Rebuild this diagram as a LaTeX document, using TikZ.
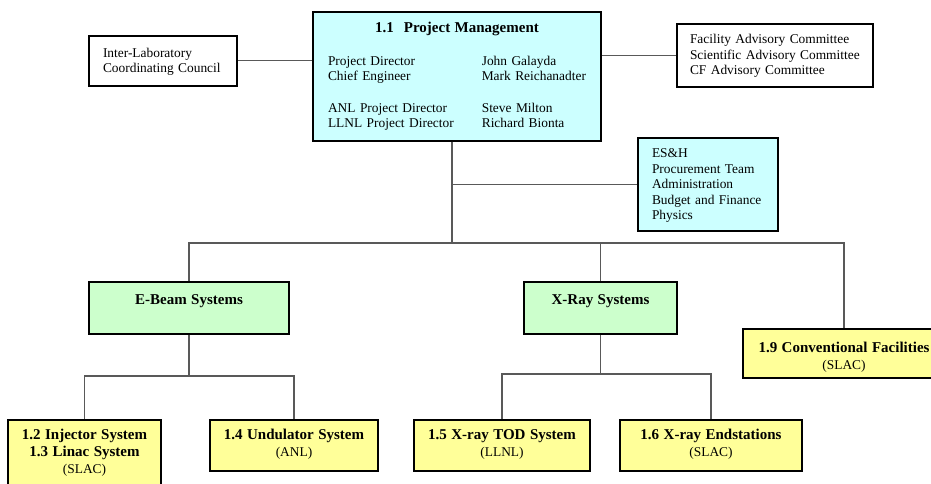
\documentclass[tikz,border=0pt]{standalone}
\usepackage{fontspec}
\setmainfont{Liberation Serif}
\definecolor{pmcyan}{HTML}{CCFFFF}
\definecolor{sysgreen}{HTML}{CCFFCC}
\definecolor{wbsyellow}{HTML}{FFFF99}
\newcommand\wbshead[1]{{\fontsize{15}{17}\selectfont\bfseries #1}}
\begin{document}
\begin{tikzpicture}[x=1pt, y=-1pt,
  box/.style={draw=black, line width=1.6pt, inner ysep=0pt, anchor=north},
  wbox/.style={box, fill=white, align=left, inner xsep=14pt,
    font=\fontsize{13.4}{15.5}\selectfont},
  cbox/.style={wbox, fill=pmcyan},
  gbox/.style={box, fill=sysgreen, align=center, inner xsep=0pt,
    font=\fontsize{13.4}{17}\selectfont},
  ybox/.style={gbox, fill=wbsyellow},
  link/.style={draw=black!65, line width=1.3pt}]
\useasboundingbox (0,0) rectangle (931,483);
% top level
\node[cbox, align=center, inner xsep=0pt, text width=288pt,
      text height=21pt, text depth=108pt] (pm) at (457,11) {%
  \begin{tabular}[t]{@{}l@{\hspace{28pt}}l@{}}
  \multicolumn{2}{c}{\wbshead{1.1\hspace{10pt}Project Management}}\\[17pt]
  Project Director & John Galayda\\
  Chief Engineer & Mark Reichanadter\\[16pt]
  ANL Project Director & Steve Milton\\
  LLNL Project Director & Richard Bionta
  \end{tabular}};
\node[wbox, text width=120pt, text height=21.5pt, text depth=28.5pt]
  (ilcc) at (163,35) {Inter-Laboratory\\Coordinating Council};
\node[wbox, inner xsep=13pt, text width=170pt, text height=20pt, text depth=43pt]
  (adv) at (775,23) {Facility Advisory Committee\\Scientific Advisory Committee\\CF Advisory Committee};
\node[cbox, text width=112pt, text height=20pt, text depth=73pt]
  (staff) at (708,137) {ES\&H\\Procurement Team\\Administration\\Budget and Finance\\Physics};
% systems
\node[gbox, text width=200pt, text height=23pt, text depth=29pt]
  (ebeam) at (189,281) {\wbshead{E-Beam Systems}};
\node[gbox, text width=153pt, text height=23pt, text depth=29pt]
  (xray) at (600.5,281) {\wbshead{X-Ray Systems}};
\node[ybox, text width=202pt, text height=24pt, text depth=25pt]
  (conv) at (844,328) {\wbshead{1.9 Conventional Facilities}\\(SLAC)};
% WBS elements
\node[ybox, text width=153pt, text height=20pt, text depth=56pt]
  (inj) at (84.5,419) {\wbshead{1.2 Injector System}\\\wbshead{1.3 Linac System}\\(SLAC)};
\node[ybox, text width=168pt, text height=20pt, text depth=31pt]
  (und) at (294,419) {\wbshead{1.4 Undulator System}\\(ANL)};
\node[ybox, text width=176pt, text height=20pt, text depth=31pt]
  (tod) at (502,419) {\wbshead{1.5 X-ray TOD System}\\(LLNL)};
\node[ybox, text width=182pt, text height=20pt, text depth=31pt]
  (ends) at (711,419) {\wbshead{1.6 X-ray Endstations}\\(SLAC)};
% connectors
\coordinate (hub) at (452,243);
\coordinate (ebus) at (0,376);
\coordinate (xbus) at (0,374);
\draw[link] (ilcc.east) -- (ilcc.east -| pm.west);
\draw[link] (adv.west -| pm.east) -- (adv.west);
\draw[link] (hub |- pm.south) -- (hub);
\draw[link] (hub |- staff.west) -- (staff.west);
\draw[link] (ebeam.north) -- (ebeam.north |- hub) -- (conv.north |- hub) -- (conv.north);
\draw[link] (xray.north) -- (xray.north |- hub);
\draw[link] (ebeam.south) -- (ebeam.south |- ebus);
\draw[link] (inj.north) |- (und.north |- ebus) -- (und.north);
\draw[link] (xray.south) -- (xray.south |- xbus);
\draw[link] (tod.north) |- (ends.north |- xbus) -- (ends.north);
\end{tikzpicture}
\end{document}
